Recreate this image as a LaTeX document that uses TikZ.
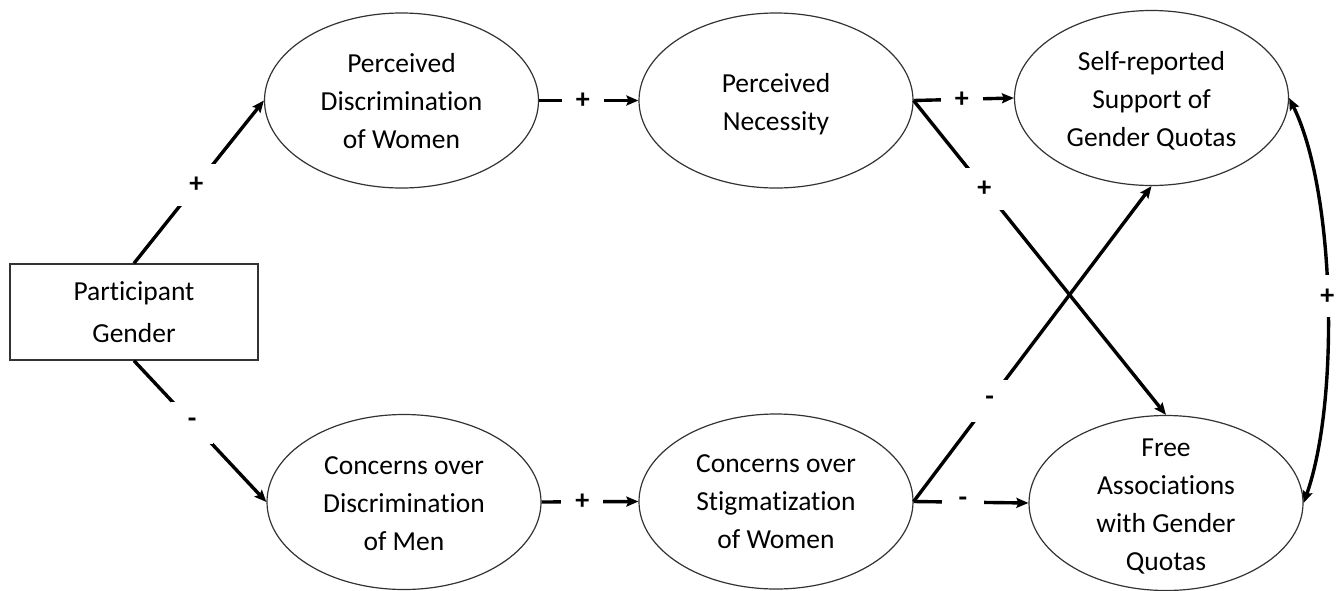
\documentclass[tikz,border=0pt]{standalone}
\usepackage{fontspec}
\setmainfont{Carlito}[Ligatures={NoCommon}]
\usetikzlibrary{shapes.geometric,arrows.meta}
\begin{document}
\begin{tikzpicture}[x=1pt,y=-1pt,
  ell/.style={draw=black!80, line width=1.2pt, ellipse, minimum width=274pt, minimum height=175pt, inner sep=0pt},
  txt/.style={align=center, font=\fontsize{27.5}{38}\selectfont, inner sep=0pt},
  boxnode/.style={draw=black!80, line width=1.4pt, rectangle, minimum width=248pt, minimum height=96pt, inner sep=0pt, align=center, font=\fontsize{27.5}{42}\selectfont},
  conn/.style={line width=3.4pt, -{Stealth[length=12pt,width=10pt,inset=2pt]}},
  dconn/.style={line width=3.4pt, {Stealth[length=12pt,width=10pt,inset=2pt]}-{Stealth[length=12pt,width=10pt,inset=2pt]}},
  sgn/.style={fill=white, minimum width=42pt, minimum height=42pt, inner sep=0pt, font=\bfseries\fontsize{28}{28}\selectfont},
]
\useasboundingbox (0,0) rectangle (1344,590);

% nodes
\node[boxnode] (pg) at (134,312) {Participant\\Gender};

\node[ell] (pdw) at (401.5,100.5) {};
\node[txt] (pdwt) at ([yshift=-1pt]pdw.center) {Perceived\\Discrimination\\of Women};

\node[ell] (pn) at (776,100.5) {};
\node[txt] (pnt) at ([yshift=-4pt]pn.center) {Perceived\\Necessity};

\node[ell] (srs) at (1151.5,98) {};
\node[txt] (srst) at ([yshift=-3pt]srs.center) {Self-reported\\Support of\\Gender Quotas};

\node[ell] (cdm) at (404,502) {};
\node[txt] (cdmt) at ([yshift=-2pt]cdm.center) {Concerns over\\Discrimination\\of Men};

\node[ell] (csw) at (776,501.5) {};
\node[txt] (cswt) at (csw) {Concerns over\\Stigmatization\\of Women};

\node[ell] (fa) at (1166,503) {};
\node[txt] (fat) at ([yshift=-3pt]fa.center) {Free\\Associations\\with Gender\\Quotas};

% connectors
\draw[conn] (pg.north) -- node[sgn,pos=0.48] (l1) {+} (pdw.west);
\draw[conn] (pg.south) -- node[sgn,pos=0.44] (l2) {-} (cdm.west);
\draw[conn] (pdw.east) -- node[sgn,pos=0.44] (l3) {+} (pn.west);
\draw[conn] (pn.east) -- node[sgn,pos=0.48] (l4) {+} (srs.west);
\draw[conn] (pn.east) -- node[sgn,pos=0.28] (l5) {+} (fa.north);
\draw[conn] (csw.east) -- node[sgn,pos=0.32] (l6) {-} (srs.south);
\draw[conn] (csw.east) -- node[sgn,pos=0.43] (l7) {-} (fa.west);
\draw[conn] (cdm.east) -- node[sgn,pos=0.42] (l8) {+} (csw.west);
\draw[dconn] (srs.east) .. controls (1335,190) and (1340,400) .. node[sgn,pos=0.5] (l9) {+} (fa.east);
\end{tikzpicture}
\end{document}
